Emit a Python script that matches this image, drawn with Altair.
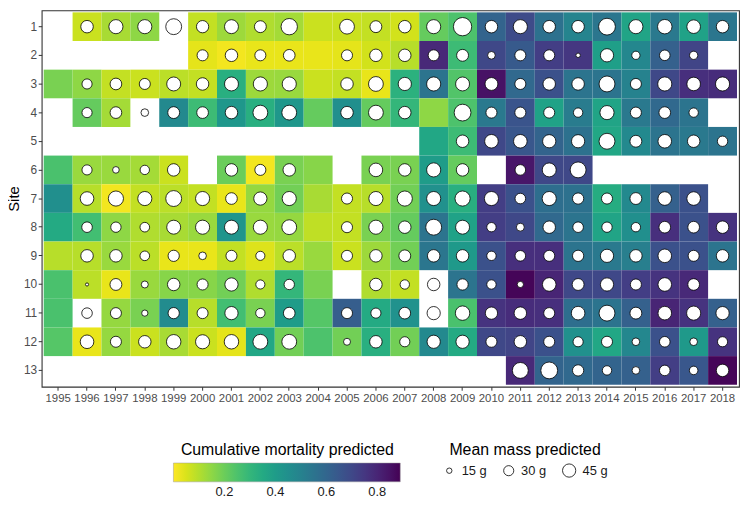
import altair as alt
import pandas as pd

years = list(range(1995, 2019))
sites = list(range(1, 14))
N = None

# Cumulative mortality predicted (tile fill), one list per site, years 1995..2018
mort_1 = [N, 0.07, 0.115, 0.15, N, 0.08, 0.13, 0.105, 0.12, 0.07, 0.07, 0.08, 0.06, 0.21, 0.25, 0.61, 0.69, 0.56, 0.49, 0.54, 0.37, 0.53, 0.38, 0.54]
mort_2 = [N, N, N, N, N, 0.035, 0.015, 0.03, 0.03, 0.03, 0.035, 0.06, 0.095, 0.79, 0.28, 0.70, 0.64, 0.73, 0.75, 0.39, 0.48, 0.62, 0.71, N]
mort_3 = [0.18, 0.15, 0.08, 0.07, 0.09, 0.08, 0.33, 0.13, 0.135, 0.07, 0.08, 0.03, 0.32, 0.55, 0.24, 0.85, 0.59, 0.67, 0.55, 0.55, 0.50, 0.70, 0.77, 0.78]
mort_4 = [N, 0.21, 0.12, N, 0.47, 0.28, 0.42, 0.33, 0.42, 0.21, 0.45, 0.21, 0.30, 0.15, 0.25, 0.53, 0.66, 0.38, 0.52, 0.37, 0.53, 0.59, 0.55, N]
mort_5 = [N, N, N, N, N, N, N, N, N, N, N, N, N, 0.36, 0.28, 0.70, 0.65, 0.61, 0.56, 0.36, 0.47, 0.55, 0.53, 0.55]
mort_6 = [0.255, 0.135, 0.135, 0.12, 0.07, N, 0.20, 0.015, 0.18, 0.16, N, 0.18, 0.18, 0.40, 0.21, N, 0.84, 0.70, 0.70, N, N, N, N, N]
mort_7 = [0.45, 0.095, 0.015, 0.08, 0.09, 0.08, 0.03, 0.14, 0.19, 0.115, 0.08, 0.095, 0.19, 0.445, 0.33, 0.73, 0.67, 0.57, 0.56, 0.34, 0.47, 0.62, 0.67, N]
mort_8 = [0.35, 0.27, 0.15, 0.105, 0.115, 0.135, 0.43, 0.135, 0.14, 0.085, 0.08, 0.18, 0.21, 0.55, 0.38, 0.73, 0.70, 0.59, 0.55, 0.37, 0.45, 0.77, 0.67, 0.76]
mort_9 = [0.095, 0.095, 0.135, 0.09, 0.03, 0.03, 0.08, 0.045, 0.09, 0.135, 0.07, 0.13, 0.19, 0.54, 0.41, 0.67, 0.77, 0.77, 0.55, 0.53, 0.51, 0.67, 0.67, 0.55]
mort_10 = [0.255, 0.09, 0.03, 0.135, 0.16, 0.16, 0.19, 0.105, 0.30, 0.18, N, 0.105, 0.08, N, 0.55, 0.67, 0.88, 0.80, 0.70, 0.70, 0.73, 0.76, 0.79, N]
mort_11 = [0.255, N, 0.14, 0.18, 0.46, 0.095, 0.27, 0.18, 0.40, 0.235, 0.63, 0.35, 0.44, N, 0.255, 0.76, 0.78, 0.77, 0.57, 0.55, 0.62, 0.80, 0.76, 0.62]
mort_12 = [0.235, 0.03, 0.14, 0.07, 0.115, 0.07, 0.035, 0.36, 0.19, 0.25, 0.19, 0.33, 0.19, 0.47, 0.35, 0.70, 0.71, 0.67, 0.445, 0.36, 0.48, 0.67, 0.41, 0.76]
mort_13 = [N, N, N, N, N, N, N, N, N, N, N, N, N, N, N, N, 0.79, 0.61, 0.59, 0.61, 0.62, 0.73, 0.65, 0.88]

# Mean mass predicted in g (circle size), years 1995..2018
mass_1 = [N, 41, 50, 50, 61, 40, 49, 38, 64, N, 54, 38, 41, 50, 78, 41, 50, 41, 41, 67, 50, 52, 47, 41]
mass_2 = [N, N, N, N, N, 34, 41, 34, 37, N, 34, 41, 41, 34, 38, 21, 34, 34, 13, 45, 23, 32, 23, N]
mass_3 = [N, 30, 37, 34, 49, 41, 49, 50, 50, N, 41, 54, 45, 50, 49, 43, 34, 41, 41, 61, 34, 50, 47, 50]
mass_4 = [N, 30, 37, 21, 38, 37, 41, 54, 54, N, 41, 54, 41, N, 67, 34, 34, 34, 27, 50, 34, 37, 27, N]
mass_5 = [N, N, N, N, N, N, N, N, N, N, N, N, N, N, 41, 47, 47, 45, 45, 61, 38, 47, 41, 31]
mass_6 = [N, 30, 18, 27, 41, N, 41, 34, 41, N, N, 47, 41, 50, 41, N, 32, 49, 61, N, N, N, N, N]
mass_7 = [N, 47, 56, 50, 61, 50, 37, 45, 50, N, 34, 50, 56, 50, 56, 50, 32, 50, 35, 34, 38, 47, 47, N]
mass_8 = [N, 32, 31, 28, 49, 50, 49, 50, 54, N, 34, 50, 41, 61, 49, 27, 22, 41, 32, 31, 27, 37, 37, 41]
mass_9 = [N, 41, 41, 28, 35, 21, 34, 26, 41, N, 34, 41, 38, 41, 41, 27, 32, 34, 35, 45, 41, 47, 34, 41]
mass_10 = [N, 11, 38, 19, 41, 34, 45, 26, 31, N, N, 41, 27, 41, 35, 27, 17, 47, 38, 45, 34, 47, 37, N]
mass_11 = [N, 32, 34, 17, 35, 34, 45, 27, 37, N, 34, 30, 37, 45, 52, 40, 41, 34, 47, 61, 38, 47, 50, 45]
mass_12 = [N, 47, 34, 41, 52, 50, 52, 54, 54, N, 19, 41, 30, 45, 45, 34, 41, 34, 30, 34, 21, 32, 21, 30]
mass_13 = [N, N, N, N, N, N, N, N, N, N, N, N, N, N, N, N, 61, 67, 35, 27, 21, 32, 24, 41]

# Legend breaks
mort_breaks = [0.2, 0.4, 0.6, 0.8]
mass_breaks = [15, 30, 45]

mort_rows = [mort_1, mort_2, mort_3, mort_4, mort_5, mort_6, mort_7, mort_8, mort_9, mort_10, mort_11, mort_12, mort_13]
mass_rows = [mass_1, mass_2, mass_3, mass_4, mass_5, mass_6, mass_7, mass_8, mass_9, mass_10, mass_11, mass_12, mass_13]

tile_records = []
point_records = []
for s, mrow, wrow in zip(sites, mort_rows, mass_rows):
    for y, m, w in zip(years, mrow, wrow):
        if m is not None:
            tile_records.append({"site": s, "year": y, "mortality": m})
        if w is not None:
            point_records.append({"site": s, "year": y, "mass": w})

tiles_df = pd.DataFrame(tile_records)
points_df = pd.DataFrame(point_records)

FONT = "Liberation Sans"

x_enc = alt.X(
    "year:O",
    scale=alt.Scale(domain=years, paddingInner=0, paddingOuter=0.07),
    axis=alt.Axis(title=None, labelAngle=0, labelFontSize=11.5, labelPadding=2),
)
y_enc = alt.Y(
    "site:O",
    scale=alt.Scale(domain=sites, paddingInner=0, paddingOuter=0.07),
    axis=alt.Axis(title="Site", labelFontSize=12, titlePadding=2, labelPadding=1.5),
)

mort_scale = alt.Scale(scheme="viridis", reverse=True, domain=[0, 0.89])

tiles = alt.Chart(tiles_df).mark_rect().encode(
    x=x_enc,
    y=y_enc,
    color=alt.Color(
        "mortality:Q",
        scale=mort_scale,
        legend=alt.Legend(
            type="gradient",
            title="Cumulative mortality predicted",
            orient="none",
            direction="horizontal",
            legendX=133,
            legendY=436,
            gradientLength=229,
            gradientThickness=19,
            values=mort_breaks,
            labelOffset=4,
            gradientStrokeColor="#999999",
            gradientStrokeWidth=0.5,
            titleAnchor="middle",
            titlePadding=5,
        ),
    ),
)

points = alt.Chart(points_df).mark_point(
    filled=False, color="black", fill="white", fillOpacity=1, strokeWidth=0.8, opacity=1
).encode(
    x=x_enc,
    y=y_enc,
    size=alt.Size(
        "mass:Q",
        scale=alt.Scale(domain=[10, 80], range=[5, 352]),
        legend=alt.Legend(
            title="Mean mass predicted",
            orient="none",
            direction="horizontal",
            legendX=405,
            legendY=436,
            values=mass_breaks,
            labelExpr="datum.label + ' g'",
            titleAnchor="middle",
            titlePadding=5,
            labelOffset=6,
            columnPadding=14,
        ),
    ),
)

chart = (
    alt.layer(tiles, points)
    .properties(
        width=704,
        height=380,
        padding={"left": 34, "top": 0, "right": 1, "bottom": 115},
        autosize=alt.AutoSizeParams(type="none"),
        background="white",
    )
    .configure_view(stroke="#333333", strokeWidth=1.1)
    .configure_axis(
        labelFont=FONT,
        titleFont=FONT,
        labelColor="#4d4d4d",
        titleColor="black",
        titleFontSize=15,
        titleFontWeight="normal",
        tickColor="#333333",
        tickSize=3.5,
        domain=False,
        grid=False,
    )
    .configure_legend(
        titleFont=FONT,
        labelFont=FONT,
        titleFontSize=16,
        titleFontWeight="normal",
        titleColor="black",
        labelFontSize=13,
        labelColor="#1a1a1a",
        titleLimit=400,
        symbolStrokeWidth=0.8,
    )
)

chart.save("out.html", embed_options={"renderer": "svg", "actions": False})
